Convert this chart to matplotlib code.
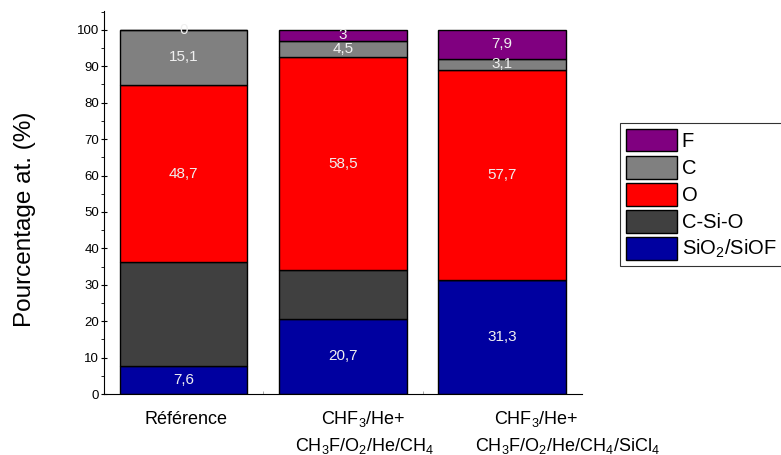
import numpy as np
import matplotlib as mpl
mpl.use('Agg')
from matplotlib import pyplot as plt
from matplotlib.ticker import MultipleLocator, FixedLocator

plt.rcParams['font.family'] = ['Liberation Sans', 'DejaVu Sans']
plt.rcParams['mathtext.fontset'] = 'custom'
plt.rcParams['mathtext.rm'] = 'Liberation Sans'

categories = ['Référence', 'CHF$_3$/He+', 'CHF$_3$/He+']
sublines = ['', 'CH$_3$F/O$_2$/He/CH$_4$', 'CH$_3$F/O$_2$/He/CH$_4$/SiCl$_4$']
sio2 = [7.6, 20.7, 31.3]
csio = [28.6, 13.3, 0.0]
oxy = [48.7, 58.5, 57.7]
carb = [15.1, 4.5, 3.1]
fluo = [0.0, 3.0, 7.9]

series = [('SiO$_2$/SiOF', sio2, '#0000a0', True),
          ('C-Si-O', csio, '#404040', False),
          ('O', oxy, '#ff0000', True),
          ('C', carb, '#808080', True),
          ('F', fluo, '#800080', True)]

fig = plt.figure(figsize=(7.81, 4.55), dpi=100)
axe = fig.add_axes([0.133, 0.134, 0.612, 0.842])

x = np.arange(len(categories))
bottom = np.zeros(len(categories))
handles = []
for name, vals, col, show in series:
    vals = np.array(vals)
    b = axe.bar(x, vals, 0.8, bottom=bottom, color=col, edgecolor='black',
                linewidth=1.0, label=name, zorder=2)
    handles.append(b)
    if show:
        for xi, v, bt in zip(x, vals, bottom):
            txt = ('%g' % v).replace('.', ',')
            axe.text(xi, bt + v / 2, txt, ha='center', va='center',
                     color='#f0f0f0', fontsize=11, zorder=3)
    bottom += vals

axe.set_xlim(-0.5, 2.5)
axe.set_ylim(0, 105.2)
axe.spines['top'].set_visible(False)
axe.spines['right'].set_visible(False)
axe.yaxis.set_major_locator(MultipleLocator(10))
axe.yaxis.set_minor_locator(MultipleLocator(5))
axe.tick_params(axis='y', which='major', direction='inout', length=5, labelsize=9.5, pad=1)
axe.tick_params(axis='y', which='minor', direction='out', length=2.5)

# category labels, hand placed like the original
axe.set_xticks([])
axe.xaxis.set_minor_locator(FixedLocator([0.5, 1.5]))
axe.tick_params(axis='x', which='minor', direction='in', length=2, color='#999999')
trans = axe.get_xaxis_transform()
first_dx = [2, 20, 34]
second_dx = [0, 22, 65]
for xi, lab, sub, d1, d2 in zip(x, categories, sublines, first_dx, second_dx):
    axe.annotate(lab, (xi, 0), xycoords=trans, xytext=(d1, -25),
                 textcoords='offset pixels', ha='center', va='center', fontsize=13)
    if sub:
        axe.annotate(sub, (xi, 0), xycoords=trans, xytext=(d2, -52),
                     textcoords='offset pixels', ha='center', va='center', fontsize=13)

axe.set_ylabel('Pourcentage at. (%)', fontsize=17.5)
axe.yaxis.set_label_coords(-0.143, 0.457)

leg = fig.legend(handles[::-1], [s[0] for s in series[::-1]],
                 loc='upper left', bbox_to_anchor=(0.794, 0.730),
                 fontsize=14.5, frameon=True, fancybox=False, edgecolor='black',
                 handlelength=2.5, handleheight=1.35, handletextpad=0.25,
                 labelspacing=0.22, borderpad=0.3, borderaxespad=0)
leg.get_frame().set_linewidth(0.8)

fig.savefig('out.png', dpi=100)
